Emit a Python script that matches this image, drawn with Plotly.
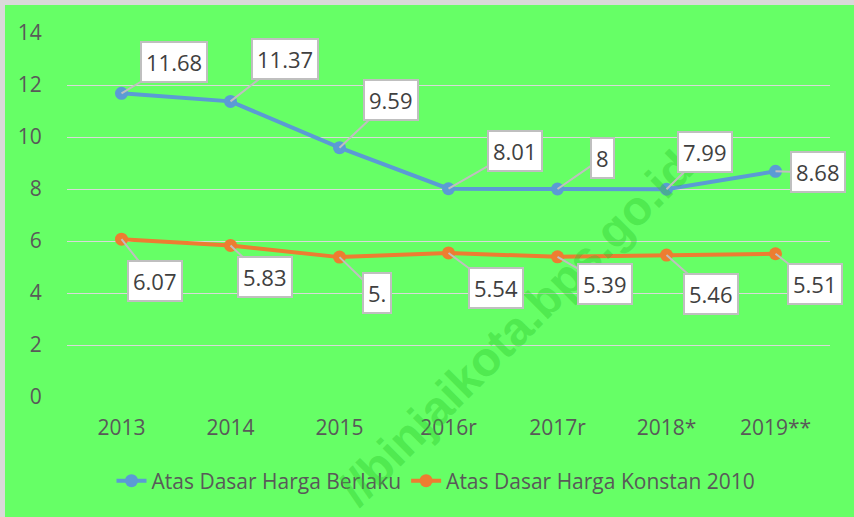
import plotly.graph_objects as go

categories = ["2013", "2014", "2015", "2016r", "2017r", "2018*", "2019**"]
berlaku = [11.68, 11.37, 9.59, 8.01, 8.00, 7.99, 8.68]
berlaku_labels = ["11.68", "11.37", "9.59", "8.01", "8", "7.99", "8.68"]
konstan = [6.07, 5.83, 5.38, 5.54, 5.39, 5.46, 5.51]
konstan_labels = ["6.07", "5.83", "5.", "5.54", "5.39", "5.46", "5.51"]
y_ticks = [0, 2, 4, 6, 8, 10, 12, 14]

# label offsets (pixels) for callouts
berlaku_off = [(52, -31), (54, -42), (51, -48), (66, -38), (45, -31), (38, -37), (42, 1)]
konstan_off = [(33, 42), (34, 32), (37, 36), (47, 35), (47, 27), (44, 39), (39, 30)]

BLUE = "#5B9BD5"
ORANGE = "#ED7D31"
GREEN = "#66FF66"
FONT = "Open Sans"

OFF = 5  # grey frame on left/top (page pixels)
W, H = 854 - OFF, 517 - OFF
L, R, T, B = 67 - OFF, 24, 33 - OFF, 120
PW, PH = W - L - R, H - T - B


def px(xp):
    return (xp - OFF - L) / PW


def py(yp):
    return (H - B - (yp - OFF)) / PH


xpos = list(range(len(categories)))

fig = go.Figure()
fig.add_trace(go.Scatter(x=xpos, y=berlaku, mode="lines+markers",
                         name="Atas Dasar Harga Berlaku",
                         line=dict(color=BLUE, width=4),
                         marker=dict(color=BLUE, size=13)))
fig.add_trace(go.Scatter(x=xpos, y=konstan, mode="lines+markers",
                         name="Atas Dasar Harga Konstan 2010",
                         line=dict(color=ORANGE, width=4),
                         marker=dict(color=ORANGE, size=13)))

annotations = [dict(
    xref="paper", yref="paper", xanchor="center", yanchor="middle",
    x=px(515), y=py(328), text="<b>//binjaikota.bps.go.id</b>",
    showarrow=False, textangle=-45,
    font=dict(family="Liberation Sans, Arial", size=48, color="rgba(45,200,45,0.4)"))]

for vals, labs, offs in ((berlaku, berlaku_labels, berlaku_off), (konstan, konstan_labels, konstan_off)):
    for xi, v, t, (dx, dy) in zip(xpos, vals, labs, offs):
        annotations.append(dict(
            x=xi, y=v, xref="x", yref="y", text=t, showarrow=True, ax=dx, ay=dy,
            arrowhead=0, arrowwidth=2, arrowcolor="#BFBFBF", standoff=0,
            bgcolor="white", bordercolor="#BFBFBF", borderwidth=2, borderpad=4,
            font=dict(family=FONT, size=22, color="#404040")))

fig.update_layout(
    width=W, height=H,
    margin=dict(l=L, r=R, t=T, b=B, autoexpand=False),
    paper_bgcolor=GREEN, plot_bgcolor=GREEN,
    font=dict(family=FONT, color="#595959"),
    showlegend=True,
    legend=dict(orientation="h", x=px(436), xanchor="center",
                y=py(481), yanchor="middle",
                font=dict(family=FONT, size=21, color="#595959"),
                bgcolor="rgba(0,0,0,0)"),
    annotations=annotations,
)
fig.update_xaxes(range=[-0.5, len(categories) - 0.5], tickvals=xpos, ticktext=categories,
                 showgrid=False, zeroline=False, showline=False,
                 ticks="outside", ticklen=12, tickcolor="rgba(0,0,0,0)",
                 tickfont=dict(family=FONT, size=21, color="#595959"))
fig.update_yaxes(range=[0, 14], tickvals=y_ticks, showgrid=True,
                 gridcolor="#D9D9D9", gridwidth=1, zeroline=False, showline=False,
                 ticks="outside", ticklen=20, tickcolor="rgba(0,0,0,0)",
                 tickfont=dict(family=FONT, size=21, color="#595959"))

fig.write_html(
    "out.html",
    config={"displayModeBar": False},
    post_script=("document.body.style.margin='0';"
                 "document.body.style.padding='%dpx 0 0 %dpx';"
                 "document.body.style.background='#D9D9D9';"
                 "document.body.style.overflow='hidden';") % (OFF, OFF),
)
